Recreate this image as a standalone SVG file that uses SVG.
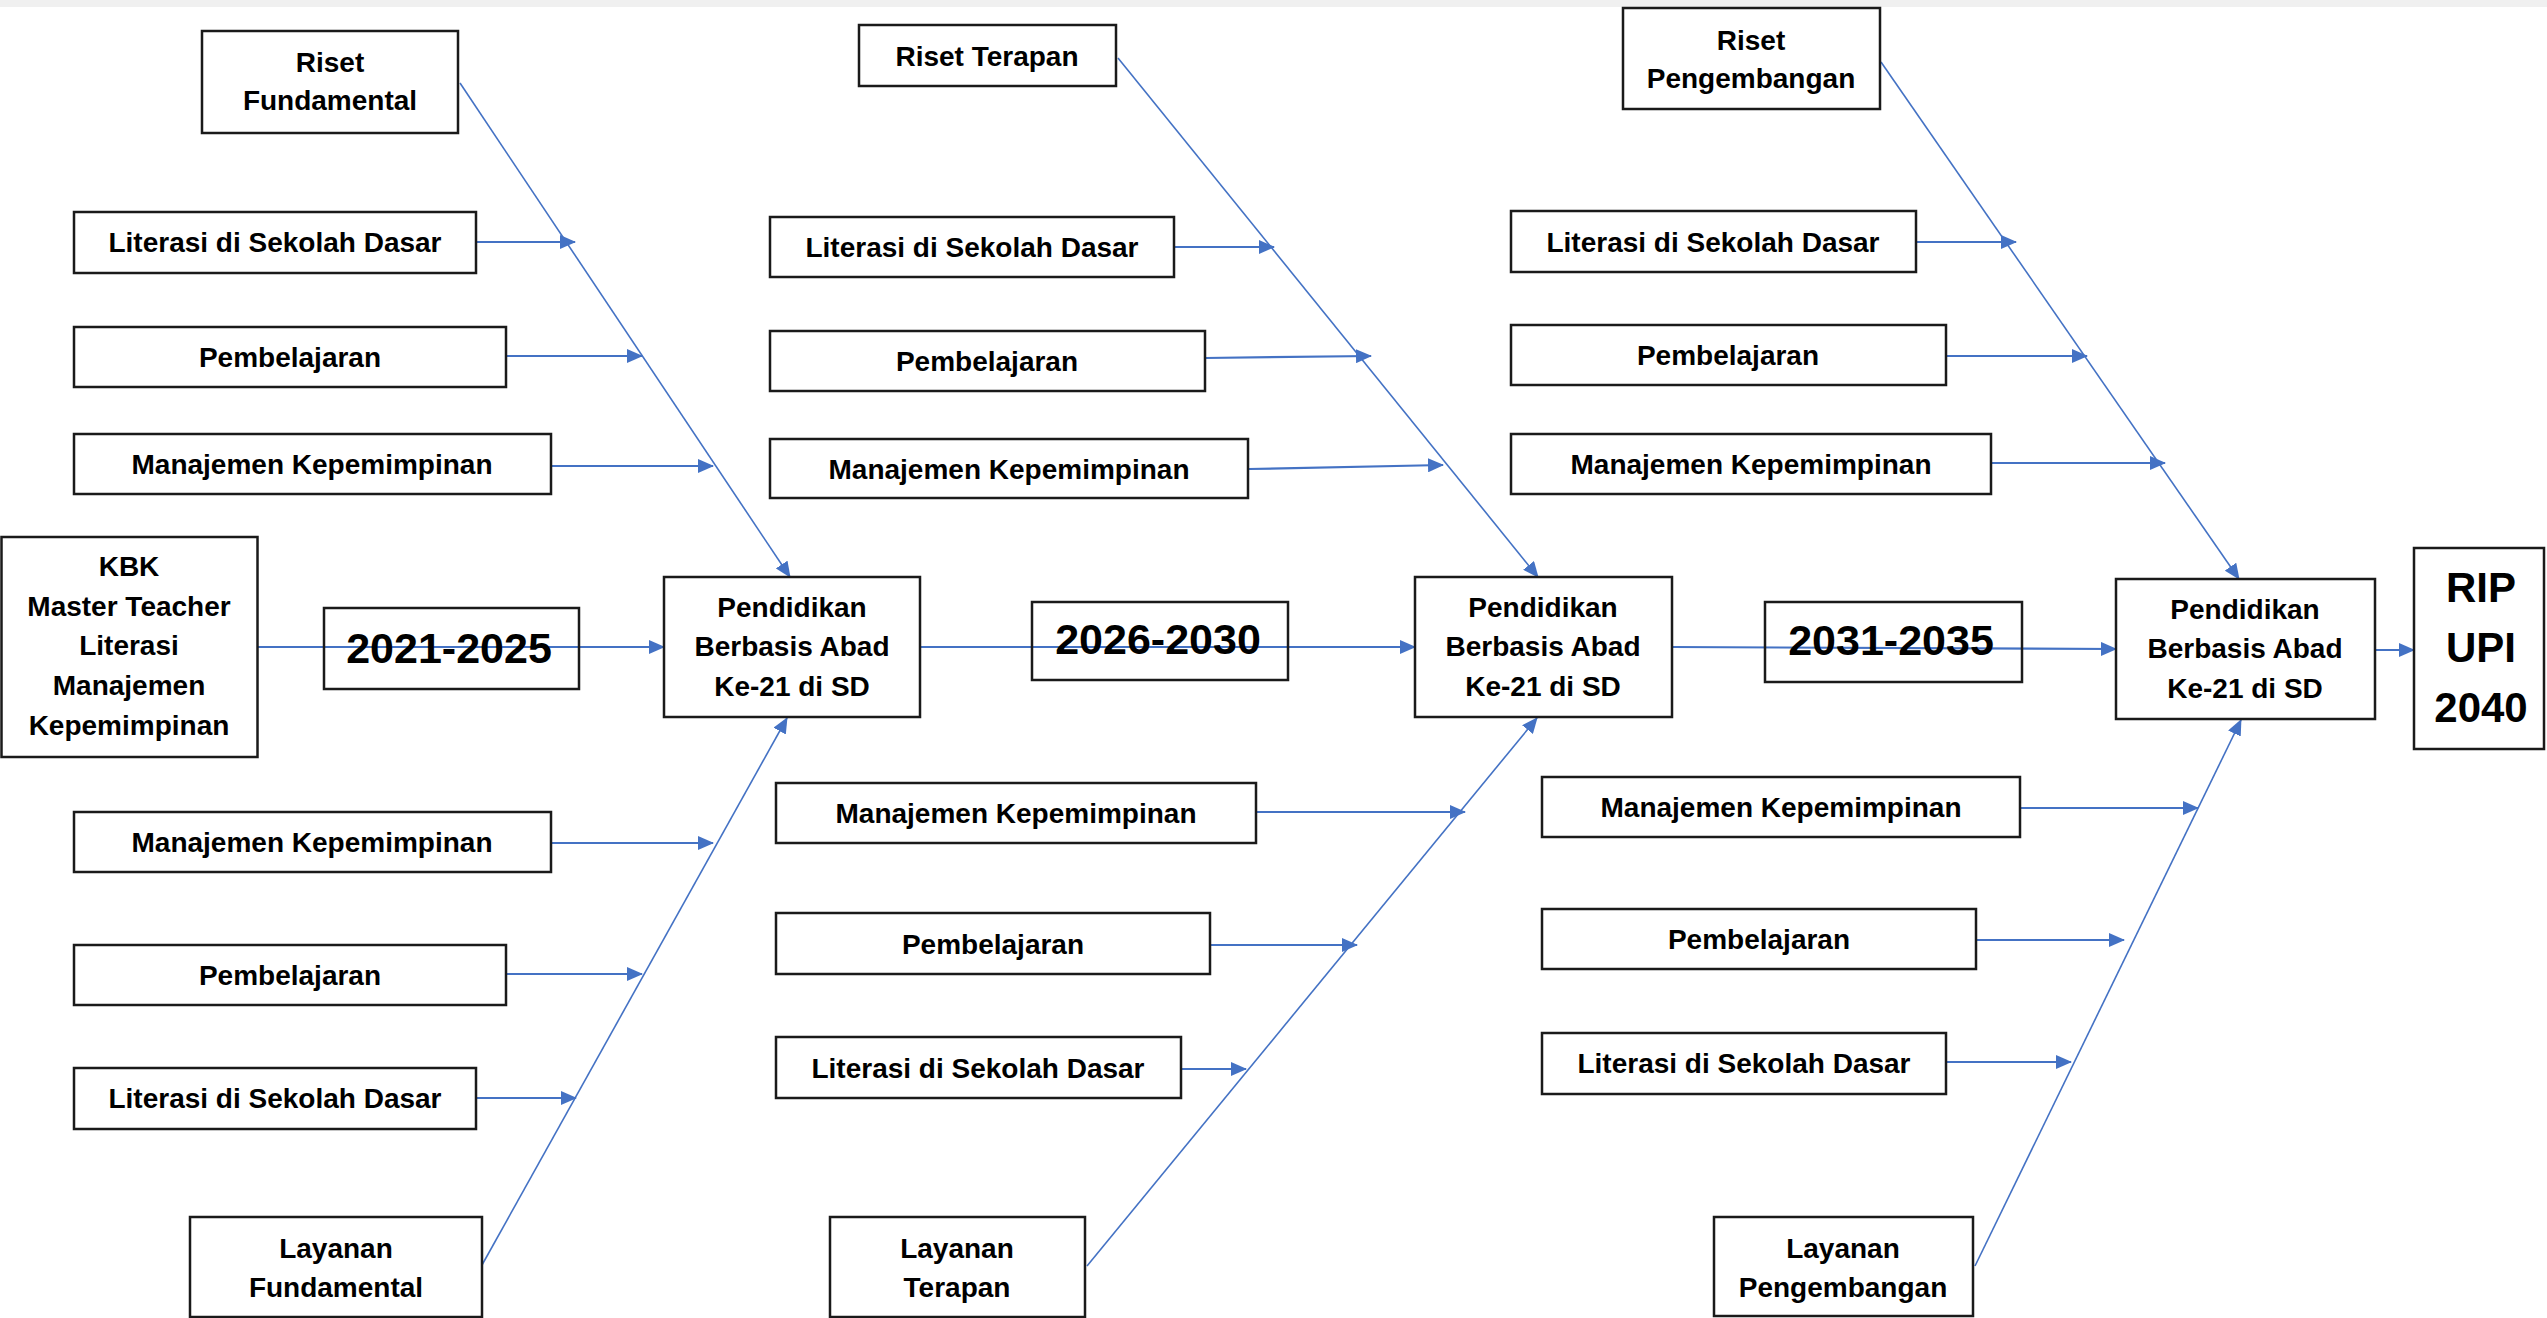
<svg xmlns="http://www.w3.org/2000/svg" width="2547" height="1318" viewBox="0 0 2547 1318">
<style>
.box{fill:#fff;stroke:#1a1a1a;stroke-width:2.5}
.yr{fill:none;stroke:#1a1a1a;stroke-width:2.5}
.t{font-family:"Liberation Sans",Arial,sans-serif;font-weight:bold;font-size:28px;text-anchor:middle;fill:#000}
.big{font-size:43px}
.rip{font-size:42px}
.c{stroke:#4472C4;fill:none;marker-end:url(#ah)}
.h{stroke-width:2.2}
.d{stroke-width:1.6}
</style>
<defs>
<marker id="ah" markerUnits="userSpaceOnUse" markerWidth="16" markerHeight="14" refX="15" refY="7" orient="auto">
<path d="M0,0 L16,7 L0,14 z" fill="#4472C4"/>
</marker>
</defs>
<rect x="0" y="0" width="2547" height="7" fill="#f0f0f0"/>
<g id="connectors">
<line class="c h" x1="258" y1="647" x2="664" y2="647"/>
<line class="c h" x1="921" y1="647" x2="1415" y2="647"/>
<line class="c h" x1="1672" y1="647" x2="2116" y2="649"/>
<line class="c h" x1="2376" y1="650" x2="2414" y2="650"/>
<line class="c d" x1="460" y1="83" x2="790" y2="577"/>
<line class="c d" x1="482" y1="1265" x2="787" y2="718"/>
<line class="c d" x1="1118" y1="58" x2="1538" y2="577"/>
<line class="c d" x1="1087" y1="1266" x2="1537" y2="718"/>
<line class="c d" x1="1881" y1="62" x2="2239" y2="579"/>
<line class="c d" x1="1975" y1="1266" x2="2241" y2="720"/>
<line class="c h" x1="476" y1="242" x2="575" y2="242"/>
<line class="c h" x1="506" y1="356" x2="642" y2="356"/>
<line class="c h" x1="551" y1="466" x2="713" y2="466"/>
<line class="c h" x1="551" y1="843" x2="713" y2="843"/>
<line class="c h" x1="506" y1="974" x2="642" y2="974"/>
<line class="c h" x1="476" y1="1098" x2="576" y2="1098"/>
<line class="c h" x1="1174" y1="247" x2="1274" y2="247"/>
<line class="c h" x1="1205" y1="358" x2="1371" y2="356"/>
<line class="c h" x1="1249" y1="469" x2="1443" y2="465"/>
<line class="c h" x1="1256" y1="812" x2="1465" y2="812"/>
<line class="c h" x1="1210" y1="945" x2="1357" y2="945"/>
<line class="c h" x1="1181" y1="1069" x2="1246" y2="1069"/>
<line class="c h" x1="1917" y1="242" x2="2016" y2="242"/>
<line class="c h" x1="1947" y1="356" x2="2087" y2="356"/>
<line class="c h" x1="1992" y1="463" x2="2165" y2="463"/>
<line class="c h" x1="2020" y1="808" x2="2198" y2="808"/>
<line class="c h" x1="1977" y1="940" x2="2124" y2="940"/>
<line class="c h" x1="1947" y1="1062" x2="2071" y2="1062"/>
</g>
<g id="riset-fundamental"><rect class="box" x="202" y="31" width="256" height="102"/><text class="t" x="330" y="72">Riset</text><text class="t" x="330" y="110">Fundamental</text></g>
<g id="literasi-1a"><rect class="box" x="74" y="212" width="402" height="61"/><text class="t" x="275" y="252">Literasi di Sekolah Dasar</text></g>
<g id="pembelajaran-1a"><rect class="box" x="74" y="327" width="432" height="60"/><text class="t" x="290" y="367">Pembelajaran</text></g>
<g id="manajemen-1a"><rect class="box" x="74" y="434" width="477" height="60"/><text class="t" x="312" y="474">Manajemen Kepemimpinan</text></g>
<g id="kbk"><rect class="box" x="1.5" y="537" width="256" height="220"/><text class="t" x="129" y="576">KBK</text><text class="t" x="129" y="616">Master Teacher</text><text class="t" x="129" y="655">Literasi</text><text class="t" x="129" y="695">Manajemen</text><text class="t" x="129" y="735">Kepemimpinan</text></g>
<g id="year-1"><rect class="yr" x="324" y="608" width="255" height="81"/><text class="t big" x="449" y="663">2021-2025</text></g>
<g id="pendidikan-1"><rect class="box" x="664" y="577" width="256" height="140"/><text class="t" x="792" y="617">Pendidikan</text><text class="t" x="792" y="656">Berbasis Abad</text><text class="t" x="792" y="696">Ke-21 di SD</text></g>
<g id="manajemen-1b"><rect class="box" x="74" y="812" width="477" height="60"/><text class="t" x="312" y="852">Manajemen Kepemimpinan</text></g>
<g id="pembelajaran-1b"><rect class="box" x="74" y="945" width="432" height="60"/><text class="t" x="290" y="985">Pembelajaran</text></g>
<g id="literasi-1b"><rect class="box" x="74" y="1068" width="402" height="61"/><text class="t" x="275" y="1108">Literasi di Sekolah Dasar</text></g>
<g id="layanan-fundamental"><rect class="box" x="190" y="1217" width="292" height="100"/><text class="t" x="336" y="1258">Layanan</text><text class="t" x="336" y="1297">Fundamental</text></g>
<g id="riset-terapan"><rect class="box" x="859" y="25" width="257" height="61"/><text class="t" x="987" y="66">Riset Terapan</text></g>
<g id="literasi-2a"><rect class="box" x="770" y="217" width="404" height="60"/><text class="t" x="972" y="257">Literasi di Sekolah Dasar</text></g>
<g id="pembelajaran-2a"><rect class="box" x="770" y="331" width="435" height="60"/><text class="t" x="987" y="371">Pembelajaran</text></g>
<g id="manajemen-2a"><rect class="box" x="770" y="439" width="478" height="59"/><text class="t" x="1009" y="479">Manajemen Kepemimpinan</text></g>
<g id="year-2"><rect class="yr" x="1032" y="602" width="256" height="78"/><text class="t big" x="1158" y="654">2026-2030</text></g>
<g id="pendidikan-2"><rect class="box" x="1415" y="577" width="257" height="140"/><text class="t" x="1543" y="617">Pendidikan</text><text class="t" x="1543" y="656">Berbasis Abad</text><text class="t" x="1543" y="696">Ke-21 di SD</text></g>
<g id="manajemen-2b"><rect class="box" x="776" y="783" width="480" height="60"/><text class="t" x="1016" y="823">Manajemen Kepemimpinan</text></g>
<g id="pembelajaran-2b"><rect class="box" x="776" y="913" width="434" height="61"/><text class="t" x="993" y="954">Pembelajaran</text></g>
<g id="literasi-2b"><rect class="box" x="776" y="1037" width="405" height="61"/><text class="t" x="978" y="1078">Literasi di Sekolah Dasar</text></g>
<g id="layanan-terapan"><rect class="box" x="830" y="1217" width="255" height="100"/><text class="t" x="957" y="1258">Layanan</text><text class="t" x="957" y="1297">Terapan</text></g>
<g id="riset-pengembangan"><rect class="box" x="1623" y="8" width="257" height="101"/><text class="t" x="1751" y="50">Riset</text><text class="t" x="1751" y="88">Pengembangan</text></g>
<g id="literasi-3a"><rect class="box" x="1511" y="211" width="405" height="61"/><text class="t" x="1713" y="252">Literasi di Sekolah Dasar</text></g>
<g id="pembelajaran-3a"><rect class="box" x="1511" y="325" width="435" height="60"/><text class="t" x="1728" y="365">Pembelajaran</text></g>
<g id="manajemen-3a"><rect class="box" x="1511" y="434" width="480" height="60"/><text class="t" x="1751" y="474">Manajemen Kepemimpinan</text></g>
<g id="year-3"><rect class="yr" x="1765" y="602" width="257" height="80"/><text class="t big" x="1891" y="655">2031-2035</text></g>
<g id="pendidikan-3"><rect class="box" x="2116" y="579" width="259" height="140"/><text class="t" x="2245" y="619">Pendidikan</text><text class="t" x="2245" y="658">Berbasis Abad</text><text class="t" x="2245" y="698">Ke-21 di SD</text></g>
<g id="rip"><rect class="box" x="2414" y="548" width="130" height="201"/><text class="t rip" x="2481" y="602">RIP</text><text class="t rip" x="2481" y="662">UPI</text><text class="t rip" x="2481" y="722">2040</text></g>
<g id="manajemen-3b"><rect class="box" x="1542" y="777" width="478" height="60"/><text class="t" x="1781" y="817">Manajemen Kepemimpinan</text></g>
<g id="pembelajaran-3b"><rect class="box" x="1542" y="909" width="434" height="60"/><text class="t" x="1759" y="949">Pembelajaran</text></g>
<g id="literasi-3b"><rect class="box" x="1542" y="1033" width="404" height="61"/><text class="t" x="1744" y="1073">Literasi di Sekolah Dasar</text></g>
<g id="layanan-pengembangan"><rect class="box" x="1714" y="1217" width="259" height="99"/><text class="t" x="1843" y="1258">Layanan</text><text class="t" x="1843" y="1297">Pengembangan</text></g>
</svg>
